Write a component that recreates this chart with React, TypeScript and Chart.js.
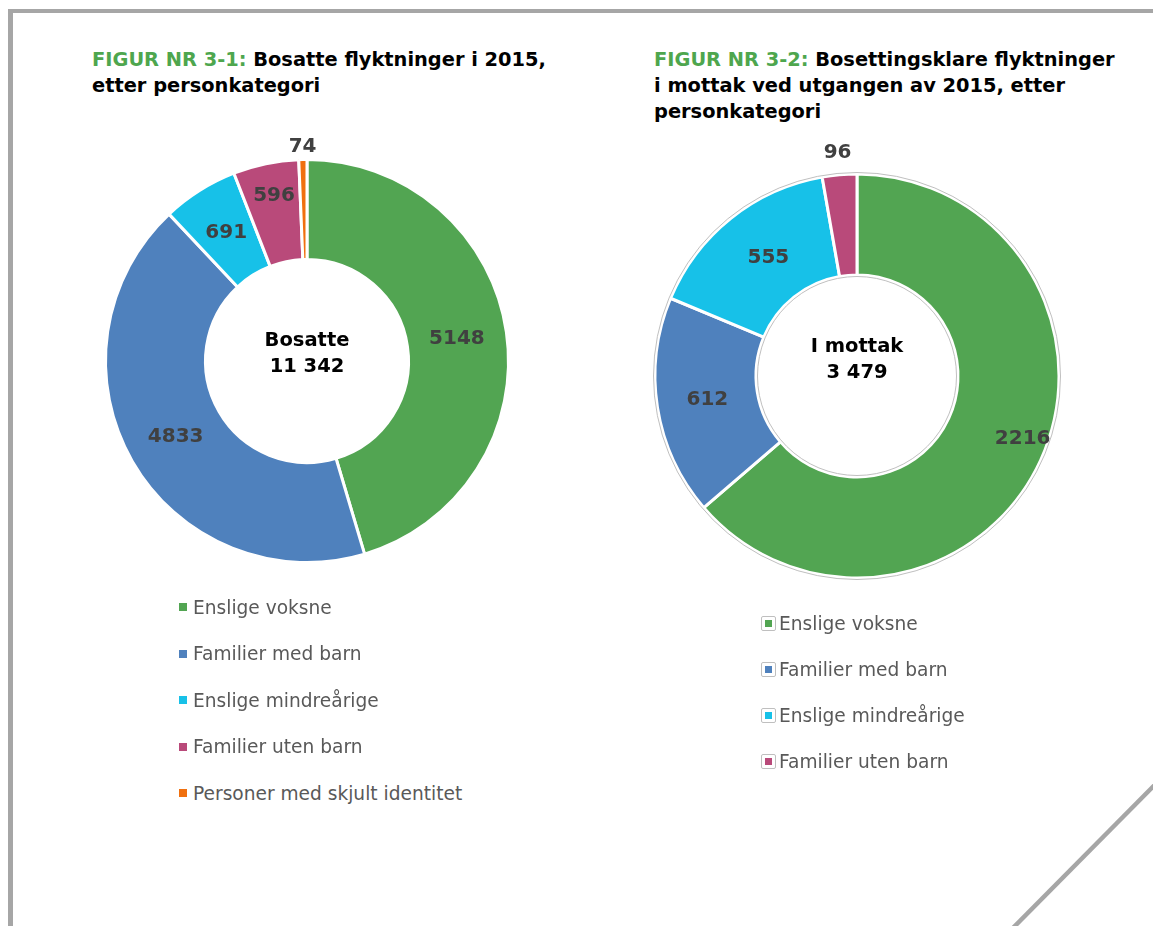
import React, { useEffect, useRef } from "react";
import { Chart, registerables } from "chart.js";

Chart.register(...registerables);

// ---- Data ----
const categories1 = [
  "Enslige voksne",
  "Familier med barn",
  "Enslige mindreårige",
  "Familier uten barn",
  "Personer med skjult identitet",
];
const values1 = [5148, 4833, 691, 596, 74];

const categories2 = [
  "Enslige voksne",
  "Familier med barn",
  "Enslige mindreårige",
  "Familier uten barn",
];
const values2 = [2216, 612, 555, 96];

const centerText1 = ["Bosatte", "11 342"];
const centerText2 = ["I mottak", "3 479"];

// ---- Styles ----
const sliceColors = ["#52A552", "#4F81BD", "#17C1E8", "#B94A7A", "#F0700F"];
const nudges1: [number, number][] = [[0, 0], [0, 0], [0, 0], [-2, -17], [0, 0]];
const nudges2: [number, number][] = [[28, 0], [0, 0], [6, 0], [0, 0]];

const LABEL_FONT = "bold 20px 'DejaVu Sans'";

function makeLabelPlugin(nudges: [number, number][], outsideGap: number) {
  return {
    id: "sliceLabels",
    afterDatasetsDraw(chart: any) {
      const ctx = chart.ctx;
      const meta = chart.getDatasetMeta(0);
      const data = chart.data.datasets[0].data as number[];
      const total = data.reduce((a, b) => a + b, 0);
      ctx.save();
      ctx.font = LABEL_FONT;
      ctx.fillStyle = "#404040";
      ctx.textAlign = "center";
      ctx.textBaseline = "middle";
      meta.data.forEach((arc: any, i: number) => {
        const p = arc.getProps(["startAngle", "endAngle", "outerRadius", "innerRadius", "x", "y"], true);
        const mid = (p.startAngle + p.endAngle) / 2;
        const outside = data[i] / total < 0.03;
        const r = outside ? p.outerRadius + outsideGap : (p.innerRadius + p.outerRadius) / 2;
        const [dx, dy] = nudges[i] || [0, 0];
        ctx.fillText(String(data[i]), p.x + Math.cos(mid) * r + dx, p.y + Math.sin(mid) * r + dy);
      });
      ctx.restore();
    },
  };
}

function makeOutlinePlugin(enabled: boolean) {
  return {
    id: "ringOutline",
    afterDatasetsDraw(chart: any) {
      if (!enabled) return;
      const meta = chart.getDatasetMeta(0);
      const arc = meta.data[0];
      if (!arc) return;
      const p = arc.getProps(["outerRadius", "innerRadius", "x", "y"], true);
      const ctx = chart.ctx;
      ctx.save();
      ctx.strokeStyle = "#BFBFBF";
      ctx.lineWidth = 1;
      ctx.beginPath();
      ctx.arc(p.x, p.y, p.outerRadius + 1.5, 0, Math.PI * 2);
      ctx.stroke();
      ctx.beginPath();
      ctx.arc(p.x, p.y, p.innerRadius - 1.5, 0, Math.PI * 2);
      ctx.stroke();
      ctx.restore();
    },
  };
}

type DonutProps = {
  values: number[];
  labels: string[];
  cx: number;
  cy: number;
  size: number;
  radius: number;
  inner: number;
  outline: boolean;
  nudges: [number, number][];
  outsideGap: number;
};

function Donut(props: DonutProps) {
  const ref = useRef<HTMLCanvasElement>(null);
  useEffect(() => {
    const chart = new Chart(ref.current as HTMLCanvasElement, {
      type: "doughnut",
      data: {
        labels: props.labels,
        datasets: [
          {
            data: props.values,
            backgroundColor: sliceColors.slice(0, props.values.length),
            borderColor: "#ffffff",
            borderWidth: 3,
          },
        ],
      },
      options: {
        animation: false,
        responsive: false,
        maintainAspectRatio: false,
        radius: props.radius,
        cutout: `${(props.inner / props.radius) * 100}%`,
        layout: { padding: 0 },
        events: [],
        plugins: {
          legend: { display: false },
          tooltip: { enabled: false },
          title: { display: false },
        },
      } as any,
      plugins: [makeLabelPlugin(props.nudges, props.outsideGap), makeOutlinePlugin(props.outline)],
    });
    return () => chart.destroy();
  }, []);
  return (
    <canvas
      ref={ref}
      width={props.size}
      height={props.size}
      style={{
        position: "absolute",
        left: props.cx - props.size / 2,
        top: props.cy - props.size / 2,
        width: props.size,
        height: props.size,
      }}
    />
  );
}

const titleStyle: React.CSSProperties = {
  position: "absolute",
  top: 47,
  fontFamily: "'DejaVu Sans', sans-serif",
  fontWeight: "bold",
  fontSize: 19.4,
  lineHeight: "26px",
  color: "#000",
  whiteSpace: "nowrap",
};

const green = "#4EA64E";

function CenterText({ lines, cx, cy }: { lines: string[]; cx: number; cy: number }) {
  return (
    <div
      style={{
        position: "absolute",
        left: cx - 100,
        top: cy - 26,
        width: 200,
        textAlign: "center",
        fontFamily: "'DejaVu Sans', sans-serif",
        fontWeight: "bold",
        fontSize: 19.5,
        lineHeight: "26px",
        color: "#000",
      }}
    >
      {lines.map((l, i) => (
        <div key={i}>{l}</div>
      ))}
    </div>
  );
}

const legendText: React.CSSProperties = {
  position: "absolute",
  height: 24,
  display: "flex",
  alignItems: "center",
  fontFamily: "'DejaVu Sans', sans-serif",
  fontSize: 18.6,
  color: "#595959",
  whiteSpace: "nowrap",
};

function Legend1() {
  return (
    <>
      {categories1.map((c, i) => (
        <div key={c} style={{ ...legendText, left: 179, top: 595 + i * 46.5 }}>
          <span style={{ display: "inline-block", width: 8, height: 8, background: sliceColors[i], marginRight: 6 }} />
          <span>{c}</span>
        </div>
      ))}
    </>
  );
}

function Legend2() {
  return (
    <>
      {categories2.map((c, i) => (
        <div key={c} style={{ ...legendText, left: 761, top: 611 + i * 46.3 }}>
          <span
            style={{
              display: "inline-flex",
              alignItems: "center",
              justifyContent: "center",
              boxSizing: "border-box",
              width: 15,
              height: 15,
              border: "1px solid #BFBFBF",
              borderRadius: 2,
              marginRight: 3,
            }}
          >
            <span style={{ display: "inline-block", width: 7, height: 7, background: sliceColors[i] }} />
          </span>
          <span>{c}</span>
        </div>
      ))}
    </>
  );
}

export default function App() {
  useEffect(() => {
    document.body.style.margin = "0";
  }, []);
  return (
    <div style={{ position: "relative", width: 1153, height: 926, overflow: "hidden", background: "#fff" }}>
      {/* page frame */}
      <div style={{ position: "absolute", left: 8, top: 9, width: 1153, height: 4, background: "#A6A6A6" }} />
      <div style={{ position: "absolute", left: 8, top: 9, width: 4.5, height: 926, background: "#A6A6A6" }} />
      <svg width={1153} height={926} style={{ position: "absolute", left: 0, top: 0 }}>
        <line x1={1165} y1={774.5} x2={1005} y2={936} stroke="#A6A6A6" strokeWidth={4.5} />
      </svg>

      <div style={{ ...titleStyle, left: 92 }}>
        <span style={{ color: green }}>FIGUR NR 3-1:</span> Bosatte flyktninger i 2015,
        <br />
        etter personkategori
      </div>
      <div style={{ ...titleStyle, left: 654 }}>
        <span style={{ color: green }}>FIGUR NR 3-2:</span> Bosettingsklare flyktninger
        <br />
        i mottak ved utgangen av 2015, etter
        <br />
        personkategori
      </div>

      <Donut
        values={values1}
        labels={categories1}
        cx={307}
        cy={361}
        size={500}
        radius={201.5}
        inner={101.5}
        outline={false}
        nudges={nudges1}
        outsideGap={13}
      />
      <Donut
        values={values2}
        labels={categories2}
        cx={857}
        cy={376}
        size={500}
        radius={202}
        inner={101}
        outline={true}
        nudges={nudges2}
        outsideGap={22.5}
      />

      <CenterText lines={centerText1} cx={307} cy={353} />
      <CenterText lines={centerText2} cx={857} cy={359} />

      <Legend1 />
      <Legend2 />
    </div>
  );
}
